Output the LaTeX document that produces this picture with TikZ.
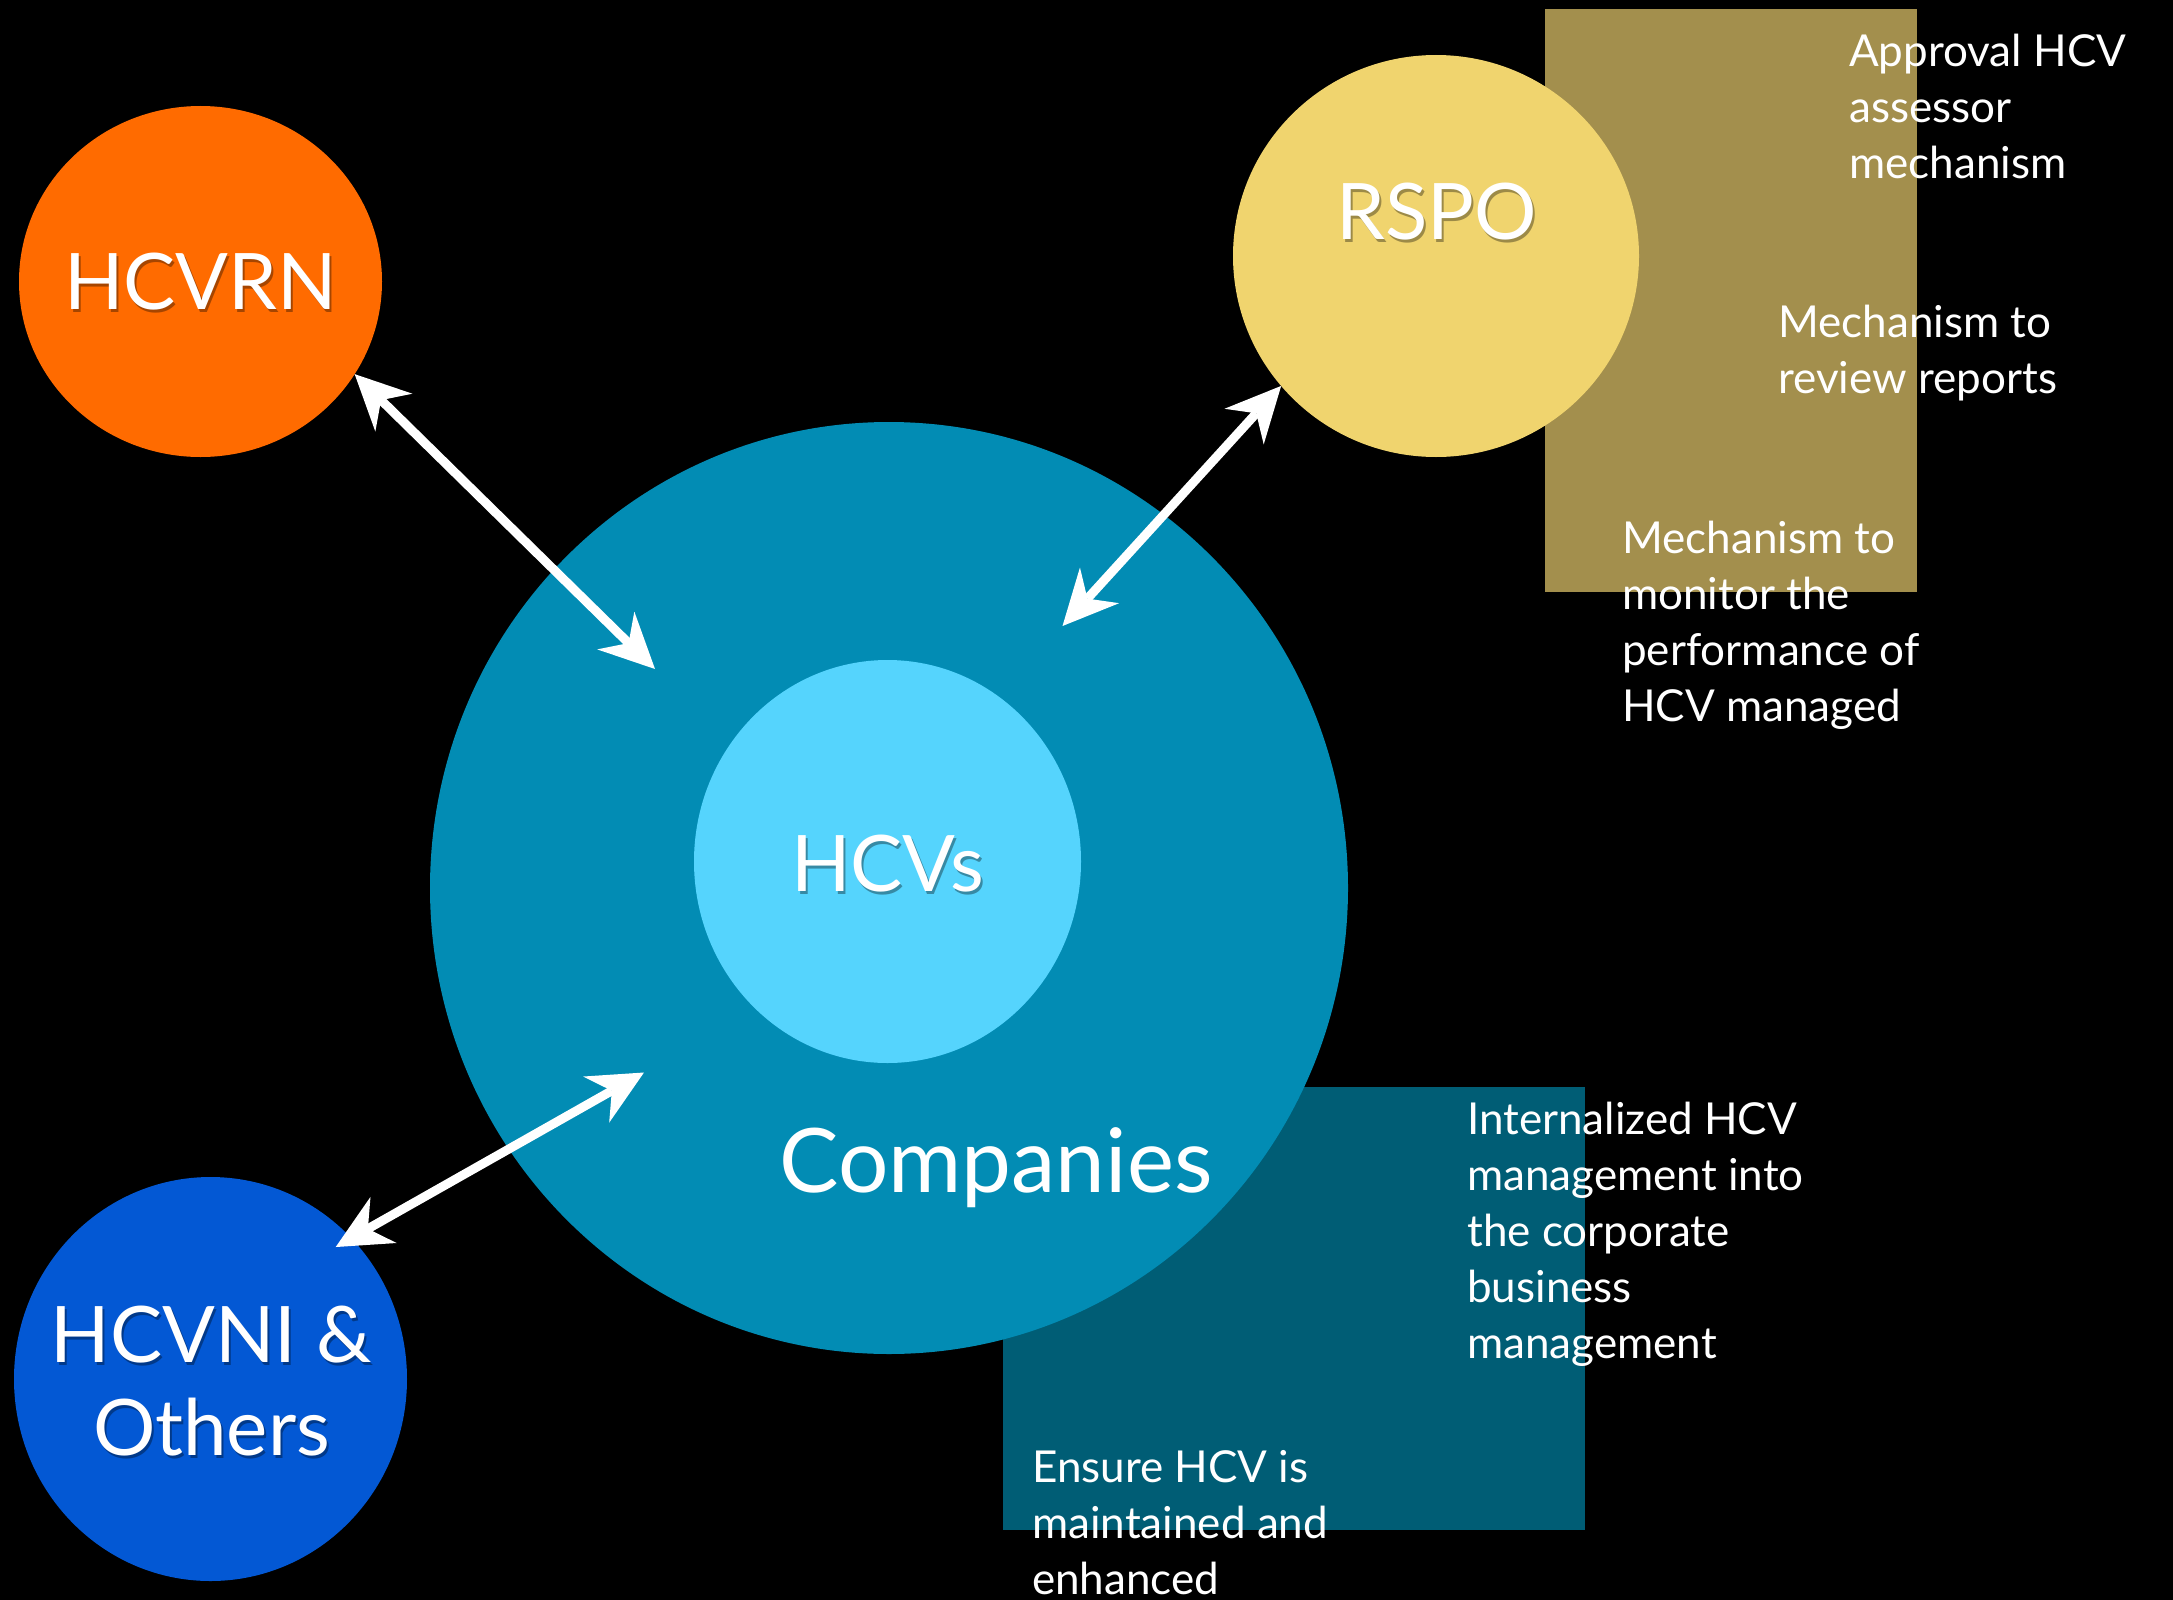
\documentclass[tikz,border=0pt]{standalone}
\usepackage{fontspec}
\setmainfont{Lato}
\usetikzlibrary{positioning}
\usetikzlibrary{shapes.geometric}
\usetikzlibrary{arrows.meta}
\definecolor{hcvrnorange}{HTML}{FF6B00}
\definecolor{rspoyellow}{HTML}{F0D46E}
\definecolor{goldbox}{HTML}{A38F4D}
\definecolor{companyblue}{HTML}{028CB4}
\definecolor{hcvsblue}{HTML}{55D4FD}
\definecolor{hcvniblue}{HTML}{0358D4}
\definecolor{tealbox}{HTML}{005D75}

\begin{document}
\begin{tikzpicture}[x=1pt, y=-1pt,
roundnode/.style={ellipse, inner sep=0pt, outer sep=0pt},
bigtext/.style={text=white, font=\fontsize{78}{93}\selectfont, align=center, inner sep=0pt},
textshadow/.style={bigtext, text=black, text opacity=0.35},
smalltext/.style={text=white, font=\fontsize{44}{56}\selectfont, align=left, anchor=north west, inner sep=0pt},
link/.style={{Stealth[length=55pt, width=53pt, inset=18pt, line width=0pt]}-{Stealth[length=55pt, width=53pt, inset=18pt, line width=0pt]}, draw=white, line width=9pt}]
\fill[black] (0,0) rectangle (2173,1600);
\useasboundingbox (0,0) rectangle (2173,1600);
\fill[goldbox] (1545,9) rectangle (1917,592);
\fill[tealbox] (1003,1087) rectangle (1585,1530);

\node[roundnode, fill=hcvrnorange, minimum width=363pt, minimum height=351pt] (hcvrn) at (200.5,281.5) {};
\node[roundnode, fill=rspoyellow, minimum width=406pt, minimum height=402pt] (rspo) at (1436,256) {};
\node[roundnode, fill=companyblue, minimum width=918pt, minimum height=932pt] (companies) at (889,888) {};
\node[roundnode, fill=hcvsblue, minimum width=387pt, minimum height=403pt] (hcvs) at (887.5,861.5) {};
\node[roundnode, fill=hcvniblue, minimum width=393pt, minimum height=404pt] (hcvni) at (210.5,1379) {};

\node[textshadow] (hcvrnshadow) at ([xshift=2pt, yshift=-3pt]hcvrn.center) {HCVRN};
\node[bigtext] (hcvrnlabel) at (hcvrn) {HCVRN};
\node[textshadow] (rsposhadow) at (1438.5,214.5) {RSPO};
\node[bigtext] (rspolabel) at (1436.5,211.5) {RSPO};
\node[textshadow] (hcvsshadow) at ([xshift=2pt, yshift=-5.5pt]hcvs.center) {HCVs};
\node[bigtext] (hcvslabel) at ([yshift=-2.5pt]hcvs.center) {HCVs};
\node[textshadow] (hcvnishadow) at (213.5,1384) {HCVNI \&\\Others};
\node[bigtext] (hcvnilabel) at (211.5,1381) {HCVNI \&\\Others};
\node[bigtext, font=\fontsize{89}{100}\selectfont, anchor=base] (companieslabel) at (996,1192) {Companies};

\node[smalltext] (approval) at (1849,34) {Approval HCV\\assessor\\mechanism};
\node[smalltext] (review) at (1778,305) {Mechanism to\\review reports};
\node[smalltext] (monitor) at (1622,521) {Mechanism to\\monitor the\\performance of\\HCV managed};
\node[smalltext] (internal) at (1467,1102) {Internalized HCV\\management into\\the corporate\\business\\management};
\node[smalltext] (ensure) at (1032,1450) {Ensure HCV is\\maintained and\\enhanced};

\coordinate (c1) at (655,669);
\coordinate (c2) at (1062.5,626);
\coordinate (c3) at (644,1072.5);

\draw[link] (hcvrn.329) -- (c1);
\draw[link] (rspo.220) -- (c2);
\draw[link, shorten <=-18pt] (hcvni.45) -- (c3);
\end{tikzpicture}
\end{document}
